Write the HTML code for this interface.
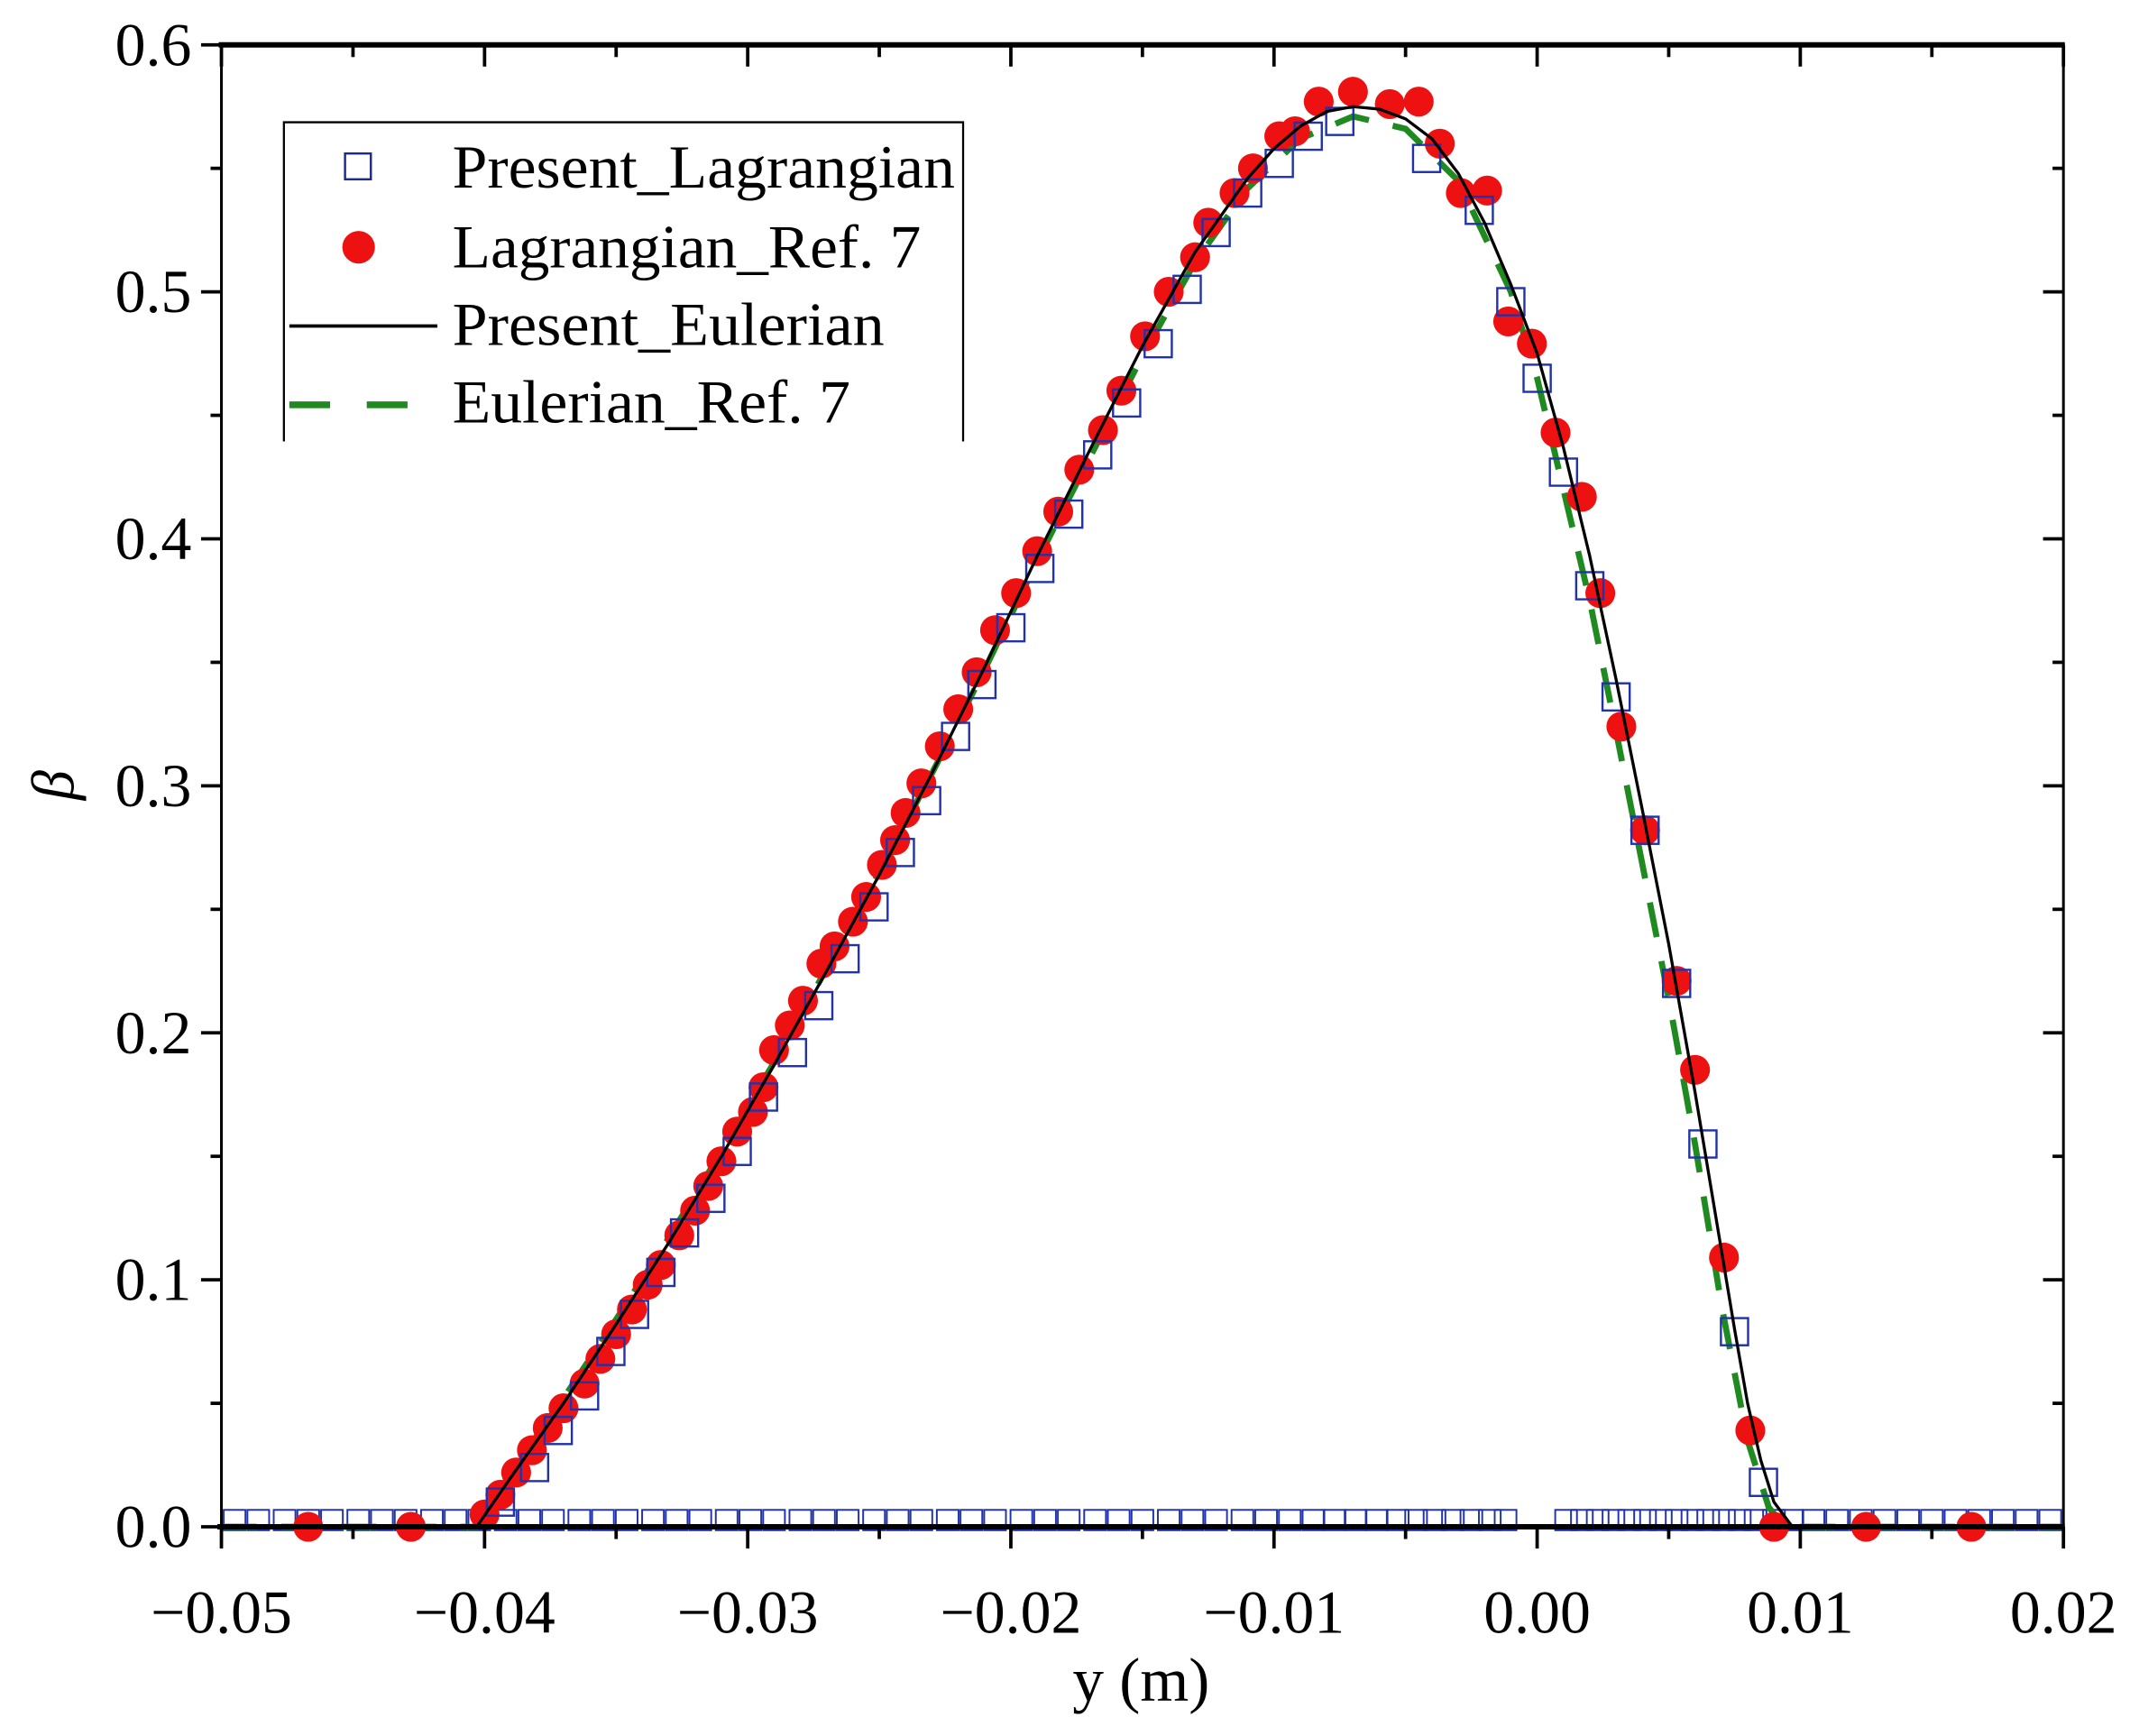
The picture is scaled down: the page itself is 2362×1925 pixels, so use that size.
<!DOCTYPE html>
<html><head><meta charset="utf-8"><style>
html,body{margin:0;padding:0;background:#fff;}
svg{display:block;font-family:"Liberation Serif",serif;}
</style></head><body>
<svg id="chart" width="2362" height="1925" viewBox="0 0 1568 1278" preserveAspectRatio="none" xmlns="http://www.w3.org/2000/svg">
<g id="marks"></g>
<g id="axes"></g>
<g id="legend">
  <path d="M209,325 L209,90 L709,90 L709,325" fill="none" stroke="#000" stroke-width="1.5"/>
  <rect x="254" y="113" width="19" height="19" fill="none" stroke="#1a2a8a" stroke-width="1.6"/>
  <text x="333" y="138" font-size="45" textLength="370" lengthAdjust="spacingAndGlyphs">Present_Lagrangian</text>
  <circle cx="264" cy="182" r="12" fill="#ee1111"/>
  <text x="333" y="197" font-size="45" textLength="345" lengthAdjust="spacingAndGlyphs">Lagrangian_Ref. 7</text>
  <line x1="213" y1="240" x2="322" y2="240" stroke="#000" stroke-width="2.5"/>
  <text x="333" y="254" font-size="45" textLength="318" lengthAdjust="spacingAndGlyphs">Present_Eulerian</text>
  <line x1="213" y1="298" x2="322" y2="298" stroke="#1f8a1f" stroke-width="5" stroke-dasharray="30,27"/>
  <text x="333" y="311" font-size="45" textLength="293" lengthAdjust="spacingAndGlyphs">Eulerian_Ref. 7</text>
</g>
</svg>
<script>
const xTicks=[-0.05,-0.04,-0.03,-0.02,-0.01,0.00,0.01,0.02];
const xTickLabels=["\u22120.05","\u22120.04","\u22120.03","\u22120.02","\u22120.01","0.00","0.01","0.02"];
const yTicks=[0,0.1,0.2,0.3,0.4,0.5,0.6];
const yTickLabels=["0.0","0.1","0.2","0.3","0.4","0.5","0.6"];
const lagX=[-0.0394,-0.0381,-0.0372,-0.0362,-0.0352,-0.0343,-0.0333,-0.0324,-0.0314,-0.0304,-0.0294,-0.0283,-0.0273,-0.0263,-0.0252,-0.0242,-0.0232,-0.0221,-0.0211,-0.0200,-0.0189,-0.0178,-0.0167,-0.0156,-0.0144,-0.0133,-0.0122,-0.0110,-0.0098,-0.0087,-0.0075,-0.0042,-0.0022,-0.0010,0.0000,0.0010,0.0020,0.0030,0.0041,0.0053,0.0063,0.0075,0.0086];
const lagY=[0.010,0.024,0.039,0.053,0.071,0.086,0.103,0.119,0.133,0.152,0.174,0.192,0.211,0.230,0.251,0.273,0.294,0.320,0.341,0.364,0.388,0.410,0.434,0.455,0.479,0.501,0.524,0.540,0.552,0.563,0.569,0.554,0.533,0.496,0.465,0.427,0.381,0.336,0.282,0.220,0.155,0.079,0.018];
const zeroRowX=[-0.0495,-0.0486,-0.0476,-0.0467,-0.0458,-0.0448,-0.0439,-0.0430,-0.0420,-0.0411,-0.0402,-0.0392,-0.0383,-0.0374,-0.0364,-0.0355,-0.0346,-0.0336,-0.0327,-0.0318,-0.0308,-0.0299,-0.0290,-0.0280,-0.0271,-0.0262,-0.0252,-0.0243,-0.0234,-0.0224,-0.0215,-0.0206,-0.0196,-0.0187,-0.0178,-0.0168,-0.0159,-0.0150,-0.0140,-0.0131,-0.0122,-0.0112,-0.0103,-0.0094,-0.0085,-0.0077,-0.0069,-0.0061,-0.0053,-0.0046,-0.0039,-0.0032,-0.0025,-0.0018,-0.0012,0.0011,0.0017,0.0023,0.0029,0.0035,0.0041,0.0047,0.0053,0.0059,0.0065,0.0071,0.0077,0.0083,0.0090,0.0097,0.0105,0.0114,0.0123,0.0132,0.0141,0.0150,0.0159,0.0168,0.0177,0.0186,0.0195];
const zeroRowY=0.003;
const refX=[-0.0467,-0.0428,-0.0400,-0.0394,-0.0388,-0.0382,-0.0376,-0.0370,-0.0362,-0.0356,-0.0350,-0.0344,-0.0338,-0.0333,-0.0326,-0.0320,-0.0315,-0.0310,-0.0304,-0.0298,-0.0294,-0.0290,-0.0284,-0.0279,-0.0272,-0.0267,-0.0260,-0.0255,-0.0249,-0.0244,-0.0240,-0.0234,-0.0227,-0.0220,-0.0213,-0.0206,-0.0198,-0.0190,-0.0182,-0.0174,-0.0165,-0.0158,-0.0149,-0.0140,-0.0130,-0.0125,-0.0115,-0.0108,-0.0098,-0.0092,-0.0083,-0.0070,-0.0056,-0.0045,-0.0037,-0.0029,-0.0019,-0.0011,-0.0002,0.0007,0.0017,0.0024,0.0032,0.0041,0.0053,0.0060,0.0071,0.0081,0.0090,0.0125,0.0165];
const refY=[0.0,0.0,0.005,0.013,0.022,0.031,0.040,0.048,0.058,0.068,0.078,0.088,0.098,0.106,0.118,0.128,0.138,0.148,0.160,0.168,0.178,0.193,0.203,0.213,0.228,0.235,0.245,0.255,0.268,0.278,0.289,0.301,0.316,0.331,0.346,0.363,0.378,0.395,0.411,0.428,0.444,0.460,0.482,0.500,0.514,0.528,0.540,0.550,0.563,0.565,0.577,0.581,0.576,0.577,0.560,0.540,0.541,0.488,0.479,0.443,0.417,0.378,0.324,0.282,0.221,0.185,0.109,0.039,0.0,0.0,0.0];
const eulX=[-0.05,-0.0403,-0.039,-0.037,-0.035,-0.033,-0.031,-0.029,-0.027,-0.025,-0.023,-0.021,-0.019,-0.017,-0.015,-0.013,-0.011,-0.010,-0.009,-0.008,-0.007,-0.006,-0.005,-0.004,-0.003,-0.002,-0.001,0.000,0.001,0.002,0.003,0.004,0.005,0.006,0.007,0.0075,0.008,0.0085,0.009,0.0097,0.02];
const eulY=[0,0,0.02,0.05,0.082,0.115,0.15,0.187,0.225,0.264,0.305,0.348,0.393,0.436,0.478,0.516,0.546,0.558,0.567,0.573,0.575,0.574,0.57,0.562,0.548,0.528,0.503,0.475,0.437,0.393,0.343,0.29,0.236,0.176,0.112,0.08,0.05,0.027,0.01,0,0];
const refEulX=[-0.05,-0.0403,-0.039,-0.037,-0.035,-0.033,-0.031,-0.029,-0.027,-0.025,-0.023,-0.021,-0.019,-0.017,-0.015,-0.013,-0.011,-0.009,-0.007,-0.005,-0.003,-0.001,0.000,0.001,0.002,0.003,0.004,0.005,0.006,0.007,0.008,0.0088,0.0094,0.02];
const refEulY=[0,0,0.022,0.052,0.084,0.117,0.152,0.188,0.226,0.265,0.305,0.347,0.391,0.433,0.474,0.512,0.542,0.562,0.571,0.566,0.545,0.5,0.465,0.42,0.375,0.322,0.268,0.214,0.155,0.09,0.035,0.008,0,0];

const L=163,R=1519,T=33,B=1124;
const xs=v=>L+(v+0.05)/0.07*(R-L);
const ys=v=>B-v/0.6*(B-T);
const NS="http://www.w3.org/2000/svg";
function mk(tag,attrs,parent){const e=document.createElementNS(NS,tag);for(const k in attrs)e.setAttribute(k,attrs[k]);parent.appendChild(e);return e;}
const marks=document.getElementById('marks'), axes=document.getElementById('axes');

const zg=mk('g',{},marks);


zeroRowX.forEach(x=>{const r=mk('rect',{x:xs(x)-8,y:ys(zeroRowY)-7,width:16,height:15,fill:'none',stroke:'#2233aa','stroke-width':1.3},zg);

});

let d=refEulX.map((x,i)=>(i?'L':'M')+xs(x).toFixed(1)+','+ys(refEulY[i]).toFixed(1)).join('');
const g=mk('path',{d:d,fill:'none',stroke:'#1f8a1f','stroke-width':4.5,'stroke-dasharray':'26,18'},marks);



const rg=mk('g',{},marks);


refX.forEach((x,i)=>{const c=mk('circle',{cx:xs(x),cy:ys(refY[i]),r:11,fill:'#ee1111'},rg);

});

const sg=mk('g',{},marks);


lagX.forEach((x,i)=>{const r=mk('rect',{x:xs(x)-10,y:ys(lagY[i])-10,width:20,height:20,fill:'none',stroke:'#2233aa','stroke-width':1.6},sg);

});

d=eulX.map((x,i)=>(i?'L':'M')+xs(x).toFixed(1)+','+ys(eulY[i]).toFixed(1)).join('');
const bl=mk('path',{d:d,fill:'none',stroke:'#000','stroke-width':2.2,'stroke-linejoin':'round'},marks);



const fr=mk('rect',{x:L,y:T,width:R-L,height:B-T,fill:'none',stroke:'#000','stroke-width':2},axes);


mk('line',{x1:L-2,y1:T,x2:R+1,y2:T,stroke:'#000','stroke-width':4},axes);
mk('line',{x1:L-3,y1:B,x2:R+1,y2:B,stroke:'#000','stroke-width':4},axes);

xTicks.forEach((v,i)=>{const x=xs(v);
mk('line',{x1:x,y1:B,x2:x,y2:B+16,stroke:'#000','stroke-width':2.5},axes);
mk('line',{x1:x,y1:T,x2:x,y2:T+16,stroke:'#000','stroke-width':2.5},axes);
if(i<xTicks.length-1){const m=xs(v+0.005);
mk('line',{x1:m,y1:B,x2:m,y2:B+9,stroke:'#000','stroke-width':2.5},axes);
mk('line',{x1:m,y1:T,x2:m,y2:T+9,stroke:'#000','stroke-width':2.5},axes);}
const t=mk('text',{x:x,y:1202,'font-size':45,'text-anchor':'middle'},axes);t.textContent=xTickLabels[i];

});
yTicks.forEach((v,i)=>{const y=ys(v);
mk('line',{x1:L,y1:y,x2:L-15,y2:y,stroke:'#000','stroke-width':2.5},axes);
mk('line',{x1:R,y1:y,x2:R-15,y2:y,stroke:'#000','stroke-width':2.5},axes);
if(i<yTicks.length-1){const m=ys(v+0.05);
mk('line',{x1:L,y1:m,x2:L-8,y2:m,stroke:'#000','stroke-width':2.5},axes);
mk('line',{x1:R,y1:m,x2:R-8,y2:m,stroke:'#000','stroke-width':2.5},axes);}
const t=mk('text',{x:141,y:y+15,'font-size':45,'text-anchor':'end'},axes);t.textContent=yTickLabels[i];

});

const xt=mk('text',{x:840,y:1252,'font-size':46,'text-anchor':'middle'},axes);xt.textContent='y (m)';


const yt=mk('text',{x:0,y:0,'font-size':44,'font-style':'italic','text-anchor':'middle',transform:'translate(54,578) rotate(-90)'},axes);yt.textContent='β';


</script>
</body></html>
